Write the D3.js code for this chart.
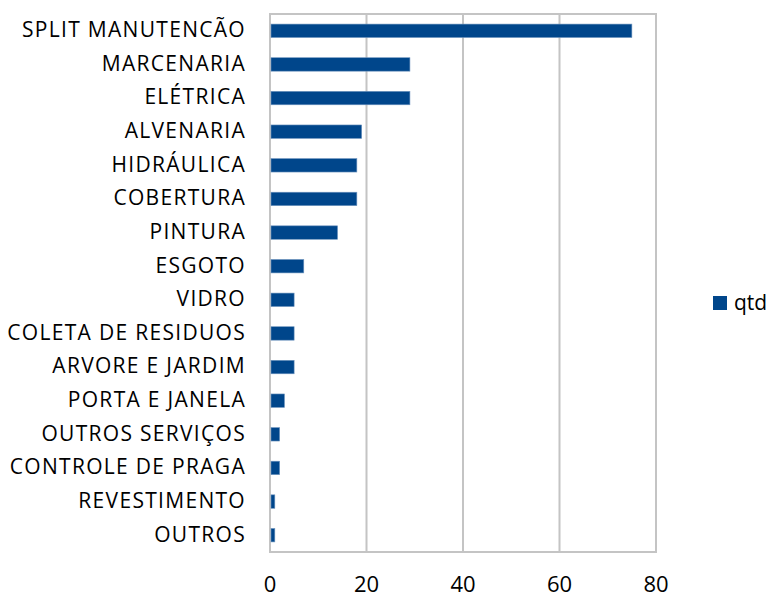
<!DOCTYPE html>
<html>
<head>
<meta charset="utf-8">
<script src="https://cdn.jsdelivr.net/npm/d3@7"></script>
<style>
  body { margin: 0; background: #fff; }
  text { font-family: "Open Sans", Lato, sans-serif; fill: #000; }
</style>
</head>
<body>
<div id="chart"></div>
<script>
/* Data ************************************************************************/

var categories = ['SPLIT MANUTENCÃO', 'MARCENARIA', 'ELÉTRICA', 'ALVENARIA',
                  'HIDRÁULICA', 'COBERTURA', 'PINTURA', 'ESGOTO', 'VIDRO',
                  'COLETA DE RESIDUOS', 'ARVORE E JARDIM', 'PORTA E JANELA',
                  'OUTROS SERVIÇOS', 'CONTROLE DE PRAGA', 'REVESTIMENTO', 'OUTROS'];
var qtd = [75, 29, 29, 19, 18, 18, 14, 7, 5, 5, 5, 3, 2, 2, 1, 1];
var xticks = [0, 20, 40, 60, 80];
var series_name = 'qtd';

/* Plot ************************************************************************/

function build_plot()
{
    let width = 772,
        height = 598,
        margin = { top: 14, bottom: 46, left: 270, right: 116 },
        bar_color = '#00468b',
        grid_color = '#c4c4c4',
        label_px = 21,
        tick_px = 22;

    let svg = d3.select('#chart').append('svg')
        .attr('width', width)
        .attr('height', height);

    let x = d3.scaleLinear()
            .domain([0, 80])
            .range([margin.left, width - margin.right]),
        y = d3.scaleBand()
            .domain(categories)
            .range([margin.top, height - margin.bottom])
            .paddingInner(0.6)
            .paddingOuter(0.3);

    // gridlines
    svg.append('g').selectAll('line').data(xticks).enter()
        .append('line')
        .attr('x1', d => x(d)).attr('x2', d => x(d))
        .attr('y1', margin.top).attr('y2', height - margin.bottom)
        .attr('stroke', grid_color)
        .attr('stroke-width', 2);

    // frame
    svg.append('rect')
        .attr('x', margin.left).attr('y', margin.top)
        .attr('width', x(80) - x(0))
        .attr('height', height - margin.bottom - margin.top)
        .attr('fill', 'none')
        .attr('stroke', grid_color)
        .attr('stroke-width', 2);

    // bars
    svg.append('g').selectAll('rect').data(qtd).enter()
        .append('rect')
        .attr('x', x(0) + 1)
        .attr('y', (d, i) => y(categories[i]))
        .attr('width', d => x(d) - x(0) - 1)
        .attr('height', y.bandwidth())
        .attr('fill', bar_color)
        .attr('stroke', '#6f95bf')
        .attr('stroke-width', 0.6);

    // category labels
    svg.append('g').selectAll('text').data(categories).enter()
        .append('text')
        .attr('x', margin.left - 24)
        .attr('y', d => y(d) + y.bandwidth() / 2 - 1)
        .attr('dy', '0.35em')
        .attr('text-anchor', 'end')
        .style('font-size', label_px + 'px')
        .style('letter-spacing', '1.3px')
        .text(d => d);

    // x tick labels
    svg.append('g').selectAll('text').data(xticks).enter()
        .append('text')
        .attr('x', d => x(d))
        .attr('y', 592)
        .attr('text-anchor', 'middle')
        .style('font-size', tick_px + 'px')
        .text(d => d);

    // legend
    let lg = svg.append('g').attr('transform', 'translate(713, 296)');
    lg.append('rect')
        .attr('width', 14).attr('height', 14)
        .attr('fill', bar_color);
    lg.append('text')
        .attr('x', 21).attr('y', 7)
        .attr('dy', '0.35em')
        .style('font-size', label_px + 'px')
        .text(series_name);
}

build_plot();
</script>
</body>
</html>
